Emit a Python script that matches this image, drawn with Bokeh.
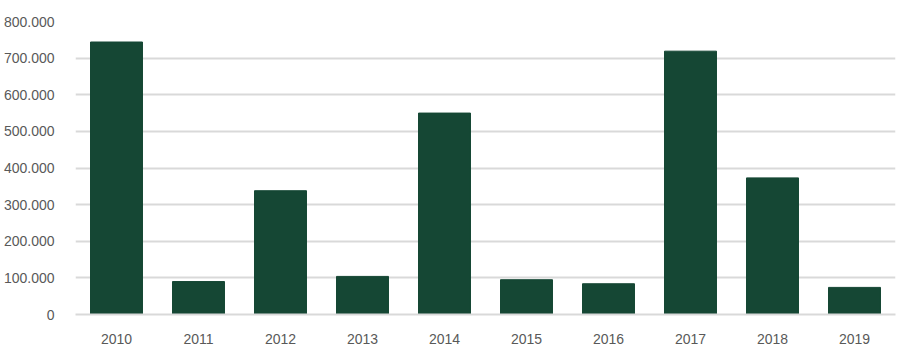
from bokeh.plotting import figure
from bokeh.models import FactorRange, Range1d, FixedTicker
from bokeh.embed import file_html
from bokeh.resources import INLINE

years = ["2010", "2011", "2012", "2013", "2014", "2015", "2016", "2017", "2018", "2019"]
values = [744000, 90000, 338000, 104000, 550000, 95000, 84000, 719000, 373000, 74000]
y_ticks = [0, 100000, 200000, 300000, 400000, 500000, 600000, 700000, 800000]
y_tick_labels = ["0", "100.000", "200.000", "300.000", "400.000", "500.000", "600.000", "700.000", "800.000"]

p = figure(x_range=FactorRange(factors=years), y_range=Range1d(0, 800000),
           width=900, height=353, output_backend="svg", toolbar_location=None,
           min_border_left=75, min_border_right=5, min_border_top=21, min_border_bottom=39)
p.vbar(x=years, top=values, width=0.634, color="#154734")

p.outline_line_color = None
p.xgrid.grid_line_color = None
p.ygrid.grid_line_color = "#d9d9d9"
p.ygrid.grid_line_width = 2
p.yaxis.ticker = FixedTicker(ticks=y_ticks)
p.yaxis.major_label_overrides = {t: l for t, l in zip(y_ticks, y_tick_labels)}

for ax in (p.xaxis[0], p.yaxis[0]):
    ax.major_tick_line_color = None
    ax.minor_tick_line_color = None
    ax.major_label_text_font = "Liberation Sans"
    ax.major_label_text_font_size = "14px"
    ax.major_label_text_color = "#595959"
p.yaxis.axis_line_color = None
p.xaxis.axis_line_color = "#d9d9d9"
p.xaxis.axis_line_width = 2
p.yaxis.major_label_standoff = 15
p.xaxis.major_label_standoff = 13

open("out.html", "w").write(file_html(p, INLINE))
